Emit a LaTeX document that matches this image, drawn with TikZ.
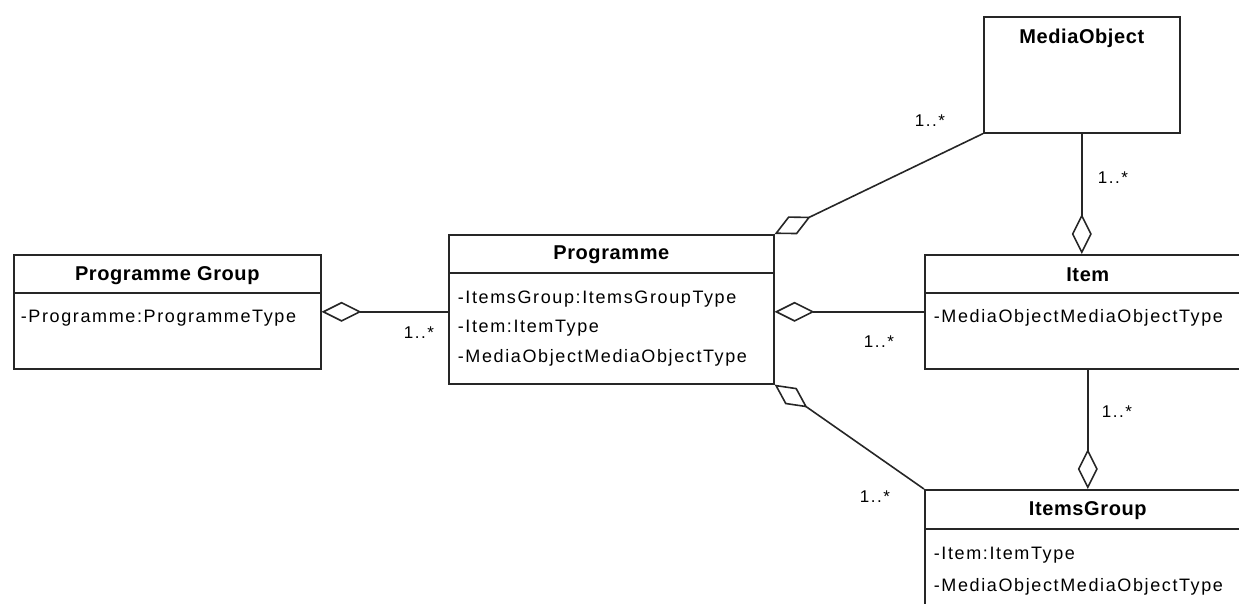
\documentclass[tikz,border=0pt]{standalone}
\usepackage{fontspec}
\setmainfont{Liberation Sans}
\newfontfamily\attrfont[LetterSpace=9]{Liberation Sans}
\newfontfamily\titlefont[LetterSpace=3]{Liberation Sans}
\usetikzlibrary{arrows.meta}
\begin{document}
\begin{tikzpicture}[x=1pt,y=-1pt,line width=1.6pt,
  box/.style={draw=black!85,rectangle,anchor=north west,inner sep=0pt},
  title/.style={font=\titlefont\fontsize{20}{22}\selectfont\bfseries,inner sep=0pt},
  attr/.style={font=\attrfont\fontsize{18}{20}\selectfont,anchor=west,inner sep=0pt},
  mult/.style={font=\attrfont\fontsize{17}{20}\selectfont,inner sep=0pt},
  agg/.style={draw=black!85,{Diamond[open,length=40pt,width=20pt]}-}]
\useasboundingbox (0,0) rectangle (1239,603);
\clip (0,0) rectangle (1239,603);
% boxes
\node[box,minimum width=307pt,minimum height=114pt] (pg) at (13,254) {};
\node[box,minimum width=325pt,minimum height=149pt] (prog) at (448,234) {};
\node[box,minimum width=196pt,minimum height=116pt] (mo) at (983,16) {};
\node[box,minimum width=326pt,minimum height=114pt] (item) at (924,254) {};
\node[box,minimum width=326pt,minimum height=140pt] (ig) at (924,489) {};
% header separators
\draw[draw=black!85] ([yshift=-39pt]pg.north west) -- ([yshift=-39pt]pg.north east);
\draw[draw=black!85] ([yshift=-39pt]prog.north west) -- ([yshift=-39pt]prog.north east);
\draw[draw=black!85] ([yshift=-39pt]item.north west) -- ([yshift=-39pt]item.north east);
\draw[draw=black!85] ([yshift=-40pt]ig.north west) -- ([yshift=-40pt]ig.north east);
% titles
\node[title] (pgt) at ([yshift=-22pt]pg.north) {Programme Group};
\node[title] (progt) at ([yshift=-21pt]prog.north) {Programme};
\node[title] (mot) at ([yshift=-22pt]mo.north) {MediaObject};
\node[title] (itemt) at ([yshift=-21pt]item.north) {Item};
\node[title] (igt) at ([yshift=-22pt]ig.north) {ItemsGroup};
% attributes
\node[attr] (pga) at ([xshift=7pt,yshift=-64pt]pg.north west) {-Programme:ProgrammeType};
\node[attr] (proga) at ([xshift=9pt,yshift=-65pt]prog.north west) {-ItemsGroup:ItemsGroupType};
\node[attr] (progb) at ([xshift=9pt,yshift=-94pt]prog.north west) {-Item:ItemType};
\node[attr] (progc) at ([xshift=9pt,yshift=-124pt]prog.north west) {-MediaObjectMediaObjectType};
\node[attr] (itema) at ([xshift=9pt,yshift=-64pt]item.north west) {-MediaObjectMediaObjectType};
\node[attr] (iga) at ([xshift=9pt,yshift=-66pt]ig.north west) {-Item:ItemType};
\node[attr] (igb) at ([xshift=9pt,yshift=-98pt]ig.north west) {-MediaObjectMediaObjectType};
% connectors
\draw[agg] (pg.east) -- (pg.east -| prog.west);
\draw[agg] (item.west -| prog.east) -- (item.west);
\draw[agg] (prog.north east) -- (mo.south west);
\draw[agg] (prog.south east) -- (ig.north west);
\draw[agg] (mo.south |- item.north) -- (mo.south);
\draw[agg] (item.south |- ig.north) -- (item.south);
% multiplicities
\node[mult] (m1) at (419,333) {1..*};
\node[mult] (m2) at (879,342) {1..*};
\node[mult] (m3) at (930,121) {1..*};
\node[mult] (m4) at (1113,178) {1..*};
\node[mult] (m5) at (1117,412) {1..*};
\node[mult] (m6) at (875,497) {1..*};
\end{tikzpicture}
\end{document}
